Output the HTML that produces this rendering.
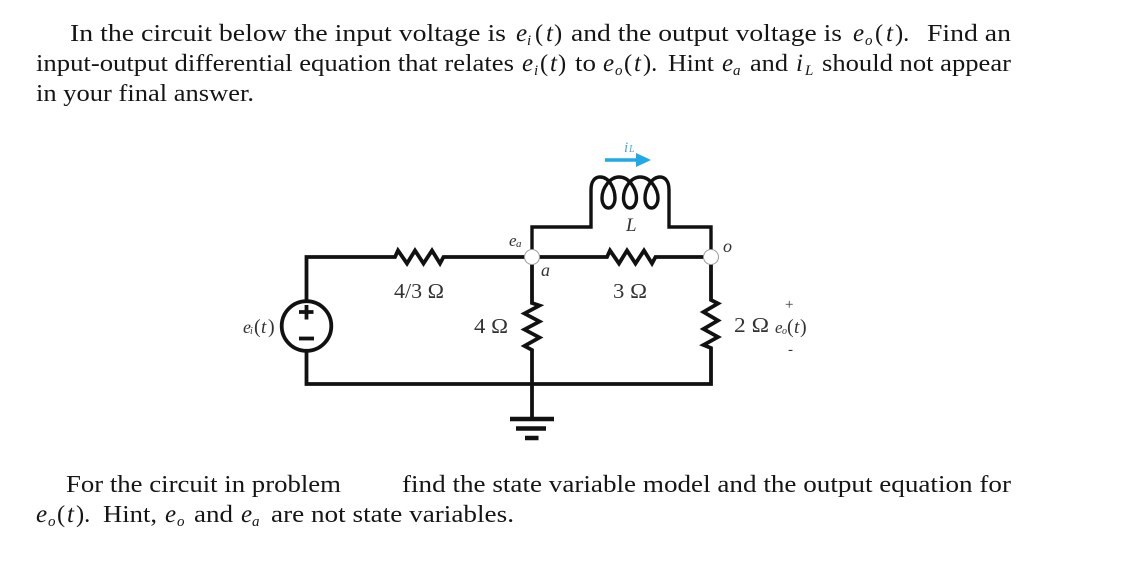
<!DOCTYPE html>
<html><head><meta charset="utf-8">
<style>
html,body{margin:0;padding:0;background:#fff;width:1140px;height:564px;overflow:hidden}
svg{display:block}
.t{font-family:"Liberation Serif",serif;font-size:24.5px;fill:#151515}
.m{font-family:"Liberation Serif",serif;font-size:25px;font-style:italic;fill:#151515}
.s{font-family:"Liberation Serif",serif;font-size:15px;font-style:italic;fill:#151515}
.c{font-family:"Liberation Serif",serif;font-size:21px;fill:#333}
.ci{font-family:"Liberation Serif",serif;font-size:18px;font-style:italic;fill:#333}
</style></head><body>
<svg width="1140" height="564" viewBox="0 0 1140 564" xmlns="http://www.w3.org/2000/svg">
<!-- line 1 -->
<text class="t" x="70" y="41" textLength="436" lengthAdjust="spacingAndGlyphs">In the circuit below the input voltage is</text>
<text class="m" x="516" y="41">e</text><text class="s" x="527" y="45">i</text>
<text class="t" x="535" y="41">(</text><text class="m" x="546" y="41">t</text><text class="t" x="554" y="41">)</text>
<text class="t" x="571" y="41" textLength="271" lengthAdjust="spacingAndGlyphs">and the output voltage is</text>
<text class="m" x="853" y="41">e</text><text class="s" x="865" y="45">o</text>
<text class="t" x="875" y="41">(</text><text class="m" x="886" y="41">t</text><text class="t" x="895" y="41">).</text>
<text class="t" x="927" y="41" textLength="84" lengthAdjust="spacingAndGlyphs">Find an</text>
<!-- line 2 -->
<text class="t" x="36" y="71" textLength="478" lengthAdjust="spacingAndGlyphs">input-output differential equation that relates</text>
<text class="m" x="522" y="71">e</text><text class="s" x="534" y="75">i</text>
<text class="t" x="540" y="71">(</text><text class="m" x="550" y="71">t</text><text class="t" x="558" y="71">)</text>
<text class="t" x="575" y="71" textLength="21" lengthAdjust="spacingAndGlyphs">to</text>
<text class="m" x="603" y="71">e</text><text class="s" x="615" y="75">o</text>
<text class="t" x="624" y="71">(</text><text class="m" x="634" y="71">t</text><text class="t" x="643" y="71">).</text>
<text class="t" x="668" y="71" textLength="46" lengthAdjust="spacingAndGlyphs">Hint</text>
<text class="m" x="722" y="71">e</text><text class="s" x="733" y="75">a</text>
<text class="t" x="750" y="71" textLength="38" lengthAdjust="spacingAndGlyphs">and</text>
<text class="m" x="796" y="71">i</text><text class="s" x="805" y="75">L</text>
<text class="t" x="822" y="71" textLength="189" lengthAdjust="spacingAndGlyphs">should not appear</text>
<!-- line 3 -->
<text class="t" x="36" y="101" textLength="218" lengthAdjust="spacingAndGlyphs">in your final answer.</text>
<!-- bottom -->
<text class="t" x="66" y="492" textLength="275" lengthAdjust="spacingAndGlyphs">For the circuit in problem</text>
<text class="t" x="402" y="492" textLength="609" lengthAdjust="spacingAndGlyphs">find the state variable model and the output equation for</text>
<text class="m" x="36" y="522">e</text><text class="s" x="48" y="526">o</text>
<text class="t" x="57" y="522">(</text><text class="m" x="67" y="522">t</text><text class="t" x="76" y="522">).</text>
<text class="t" x="103" y="522" textLength="54" lengthAdjust="spacingAndGlyphs">Hint,</text>
<text class="m" x="165" y="522">e</text><text class="s" x="177" y="526">o</text>
<text class="t" x="194" y="522" textLength="39" lengthAdjust="spacingAndGlyphs">and</text>
<text class="m" x="241" y="522">e</text><text class="s" x="252" y="526">a</text>
<text class="t" x="271" y="522" textLength="243" lengthAdjust="spacingAndGlyphs">are not state variables.</text>

<!-- circuit -->
<g fill="none" stroke="#111" stroke-width="3.8" stroke-linejoin="miter">
<path d="M306.5 301V257H395L398 250.500L407 263.500L415 250.500L423.500 263.500L432 250.500L440 263.500L443.500 257H607L610 250.500L619 263.500L627 250.500L635.500 263.500L644 250.500L652 263.500L655.500 257H711"/>
<path d="M306.500 351V384H711V348L703.500 345L718 337L703.500 329L718 320.500L703.500 312L718 303.500L711 300V257"/>
<path d="M532 257V303L539.500 305.500L524.500 313.500L539.500 321.500L524.500 329.500L539.500 337.500L524.500 346L532 350V418"/>
<path stroke-width="3.4" d="M532 257V227H591V190C591 181 595 177 600 177C610 177 615 190 615 198C615 204 612 208 608.500 208C605 208 602 204 602 198C602 188 610 177 619 177C630 177 636.500 190 636.500 198C636.500 204 633.500 208 630 208C626.500 208 623.500 204 623.500 198C623.500 188 631 177 640 177C651 177 658 190 658 198C658 204 655 208 651.500 208C648 208 645 204 645 198C645 188 652 177 660 177C665 177 669 181 669 190V227H711V257"/>
<circle cx="306.500" cy="326" r="24.800" fill="#fff"/>
</g>
<!-- nodes -->
<circle cx="532" cy="257" r="7.500" fill="#fff" stroke="#999" stroke-width="1"/>
<circle cx="711" cy="257" r="7.500" fill="#fff" stroke="#999" stroke-width="1"/>
<!-- source signs -->
<path d="M299 312H313.500M306.500 305V319.500" stroke="#111" stroke-width="3.800" fill="none"/>
<path d="M299 338.500H314" stroke="#111" stroke-width="3.800" fill="none"/>
<!-- ground -->
<path d="M510 419H554M516 428.500H546M525 438H538.500" stroke="#111" stroke-width="4.400" fill="none"/>
<!-- current arrow -->
<path d="M605 160H638" stroke="#1fa9e6" stroke-width="3.400" fill="none"/>
<path d="M636 153L651 160L636 167Z" fill="#1fa9e6"/>
<text class="ci" x="624" y="152" style="font-size:15px;fill:#4aa8d4">i</text>
<text class="ci" x="629" y="152" style="font-size:10px;fill:#4aa8d4">L</text>
<!-- labels -->
<text class="ci" x="626" y="231" style="font-size:19px">L</text>
<text class="ci" x="509" y="246" style="font-size:17px">e</text><text class="ci" x="516" y="247" style="font-size:11px">a</text>
<text class="ci" x="541" y="276" style="font-size:18px">a</text>
<text class="ci" x="723" y="252" style="font-size:18px">o</text>
<text class="c" x="394" y="298" textLength="50" lengthAdjust="spacingAndGlyphs">4/3 Ω</text>
<text class="c" x="613" y="298" textLength="34" lengthAdjust="spacingAndGlyphs">3 Ω</text>
<text class="c" x="474" y="333" textLength="34" lengthAdjust="spacingAndGlyphs">4 Ω</text>
<text class="c" x="734" y="332" textLength="35" lengthAdjust="spacingAndGlyphs">2 Ω</text>
<text class="ci" x="243" y="333" style="font-size:18px">e</text><text class="ci" x="250" y="334" style="font-size:10px">i</text>
<text class="c" x="254" y="333" style="font-size:20px">(</text><text class="ci" x="261" y="333" style="font-size:19px">t</text><text class="c" x="268" y="333" style="font-size:20px">)</text>
<text class="ci" x="775" y="333" style="font-size:17px">e</text><text class="ci" x="782" y="334" style="font-size:10px">o</text>
<text class="c" x="787" y="333" style="font-size:20px">(</text><text class="ci" x="794" y="333" style="font-size:19px">t</text><text class="c" x="800" y="333" style="font-size:20px">)</text>
<text class="c" x="785" y="309" style="font-size:15px">+</text>
<text class="c" x="788" y="354" style="font-size:15px">-</text>
</svg>
</body></html>
